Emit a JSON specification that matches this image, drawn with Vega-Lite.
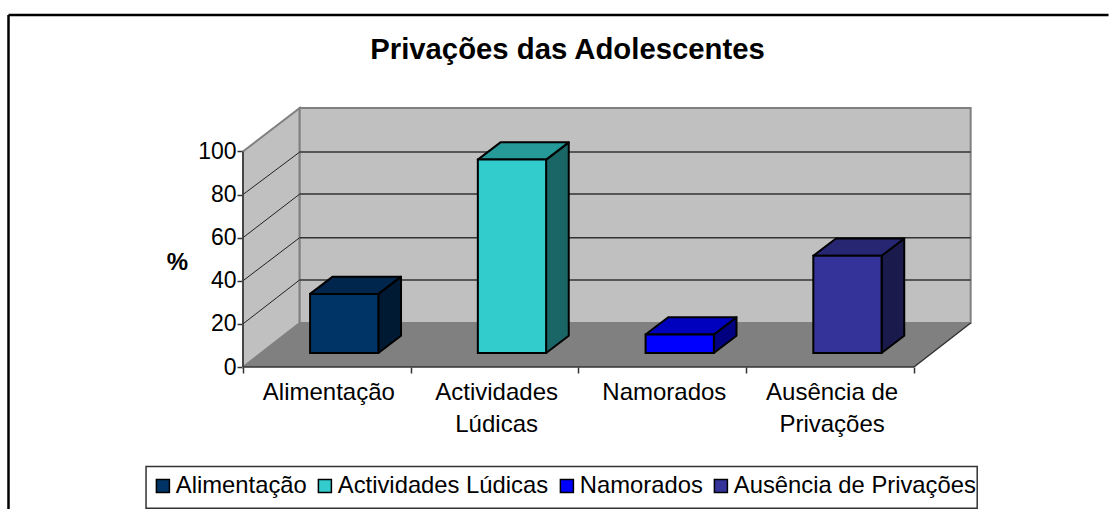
{
"$schema":"https://vega.github.io/schema/vega-lite/v6.json",
"width":729,"height":259,
"autosize":{"type":"none"},
"padding":{"left":243,"top":108,"right":137,"bottom":142},
"background":"white",
"config":{"font":"Liberation Sans","view":{"stroke":null}},
"title":{"text":"Privações das Adolescentes","anchor":"middle","frame":"group","dx":-40,"offset":0,"dy":52,"fontSize":29.3,"fontWeight":"bold","color":"#000000","font":"Liberation Sans"},
"datasets":{
"respostas":[
{"categoria":"Alimentação","rotulo":"Alimentação","percentagem":27.4},
{"categoria":"Actividades Lúdicas","rotulo":"Actividades\nLúdicas","percentagem":89.7},
{"categoria":"Namorados","rotulo":"Namorados","percentagem":8.6},
{"categoria":"Ausência de Privações","rotulo":"Ausência de\nPrivações","percentagem":45.1}
]},
"encoding":{
"x":{"field":"x","type":"quantitative","scale":{"domain":[0,4.346],"nice":false,"zero":false},
"axis":{"title":null,"grid":false,"domain":false,"labels":false,"values":[0,1,2,3,4],"tickSize":6,"tickColor":"#333333","tickWidth":1.5}},
"y":{"field":"y","type":"quantitative","scale":{"domain":[0,120.13],"nice":false,"zero":false},
"axis":{"title":"%","titleAngle":0,"titleFontWeight":"bold","titleFontSize":24,"titleColor":"#000000","titleX":-66,"titleY":161,"titleAlign":"center","titleBaseline":"alphabetic","grid":false,"domain":false,"values":[0,20,40,60,80,100],"tickSize":6,"tickColor":"#333333","tickWidth":1.5,"labelFontSize":23,"labelColor":"#000000","labelPadding":1}}
},
"layer":[
{"data":{"values":[{"x":-1.398,"x2":5.16,"y":163.3,"y2":163.3},{"x":-1.398,"x2":-1.398,"y":163.3,"y2":-66}]},
 "mark":{"type":"rule","stroke":"#000000","strokeWidth":2.5},
 "encoding":{"x2":{"field":"x2"},"y2":{"field":"y2"}}},
{"data":{"values":[{"x":-0.578,"x2":4.377,"y":-46.2,"y2":-65.5}]},
 "mark":{"type":"rect","fill":"#FFFFFF","stroke":"#333333","strokeWidth":1.5},
 "encoding":{"x2":{"field":"x2"},"y2":{"field":"y2"}}},
{"data":{"values":[{"x":0,"y":0,"y2":100},{"x":0.338,"y":20.4,"y2":120.13}]},
 "mark":{"type":"area","fill":"#C0C0C0","stroke":"#808080","strokeWidth":2},
 "encoding":{"y2":{"field":"y2"}}},
{"data":{"values":[{"x":0.338,"x2":4.338,"y":20.4,"y2":120.13}]},
 "mark":{"type":"rect","fill":"#C0C0C0","stroke":"#808080","strokeWidth":2},
 "encoding":{"x2":{"field":"x2"},"y2":{"field":"y2"}}},
{"data":{"values":[{"x":0,"y":0,"y2":0},{"x":0.338,"y":0,"y2":20.4},{"x":4,"y":0,"y2":20.4},{"x":4.338,"y":20.4,"y2":20.4}]},
 "mark":{"type":"area","fill":"#808080"},
 "encoding":{"y2":{"field":"y2"}}},
{"data":{"values":[{"x":0,"x2":0.338,"y":20,"y2":40.4},{"x":0,"x2":0.338,"y":40,"y2":60},{"x":0,"x2":0.338,"y":60,"y2":80.2},{"x":0,"x2":0.338,"y":80,"y2":99.7}]},
 "mark":{"type":"rule","stroke":"#222222","strokeWidth":1},
 "encoding":{"x2":{"field":"x2"},"y2":{"field":"y2"}}},
{"data":{"values":[{"x":0.338,"x2":4.338,"y":40.4},{"x":0.338,"x2":4.338,"y":60},{"x":0.338,"x2":4.338,"y":80.2},{"x":0.338,"x2":4.338,"y":99.7}]},
 "mark":{"type":"rule","stroke":"#333333","strokeWidth":1.5},
 "encoding":{"x2":{"field":"x2"}}},
{"data":{"values":[{"x":0,"x2":4,"y":0,"y2":0},{"x":0,"x2":0,"y":0,"y2":100},{"x":4,"x2":4.338,"y":0,"y2":20.4}]},
 "mark":{"type":"rule","stroke":"#333333","strokeWidth":1.5},
 "encoding":{"x2":{"field":"x2"},"y2":{"field":"y2"}}},
{"data":{"name":"respostas"},
 "layer":[
 {"transform":[
  {"window":[{"op":"row_number","as":"n"}]},
  {"calculate":"datum.n-0.6+0.407","as":"a"},
  {"calculate":"datum.percentagem+6.5","as":"topo"},
  {"calculate":"[0,1]","as":"p"},
  {"flatten":["p"]},
  {"calculate":"datum.a+datum.p*0.135","as":"x"},
  {"calculate":"6.5+datum.p*8","as":"y"},
  {"calculate":"datum.topo+datum.p*8","as":"y2"}],
  "mark":{"type":"area","stroke":"#000000","strokeWidth":2,"strokeJoin":"round"},
  "encoding":{"y2":{"field":"y2"},
   "fill":{"field":"categoria","type":"nominal","legend":null,"scale":{"domain":["Alimentação","Actividades Lúdicas","Namorados","Ausência de Privações"],"range":["#001A33","#1A6666","#000080","#1A1A4D"]}}}},
 {"transform":[
  {"window":[{"op":"row_number","as":"n"}]},
  {"calculate":"datum.n-0.6","as":"a"},
  {"calculate":"datum.percentagem+6.5","as":"topo"},
  {"calculate":"[0,1,2,3]","as":"p"},
  {"flatten":["p"]},
  {"calculate":"datum.a+[0,0.135,0.407,0.542][datum.p]","as":"x"},
  {"calculate":"datum.p<3?datum.topo:datum.topo+8","as":"y"},
  {"calculate":"datum.p==0?datum.topo:datum.topo+8","as":"y2"}],
  "mark":{"type":"area","stroke":"#000000","strokeWidth":2,"strokeJoin":"round"},
  "encoding":{"y2":{"field":"y2"},
   "fill":{"field":"categoria","type":"nominal","legend":null,"scale":{"domain":["Alimentação","Actividades Lúdicas","Namorados","Ausência de Privações"],"range":["#00264D","#269999","#0000BF","#262673"]}}}},
 {"transform":[
  {"window":[{"op":"row_number","as":"n"}]},
  {"calculate":"datum.n-0.6","as":"x"},
  {"calculate":"datum.x+0.407","as":"x2"},
  {"calculate":"6.5","as":"y"},
  {"calculate":"datum.percentagem+6.5","as":"y2"}],
  "mark":{"type":"rect","stroke":"#000000","strokeWidth":2},
  "encoding":{"x2":{"field":"x2"},"y2":{"field":"y2"},
   "fill":{"field":"categoria","type":"nominal","scale":{"domain":["Alimentação","Actividades Lúdicas","Namorados","Ausência de Privações"],"range":["#003366","#33CCCC","#0000FF","#333399"]},
    "legend":{"title":null,"orient":"none","direction":"horizontal","columns":4,"legendX":-92,"legendY":366,"padding":0,"columnPadding":6,"labelOffset":1,"labelFontSize":23.8,"labelColor":"#000000","labelLimit":400,"symbolType":"square","symbolSize":169,"symbolStrokeColor":"#000000","symbolStrokeWidth":1.5}}}},
 {"transform":[
  {"window":[{"op":"row_number","as":"n"}]},
  {"calculate":"datum.n-0.5","as":"x"},
  {"calculate":"-15.3","as":"y"}],
  "mark":{"type":"text","lineBreak":"\n","lineHeight":32,"fontSize":24,"align":"center","baseline":"alphabetic","color":"#000000","dx":2},
  "encoding":{"text":{"field":"rotulo"}}}
 ],
 "resolve":{"scale":{"fill":"independent"}}}
]
}
